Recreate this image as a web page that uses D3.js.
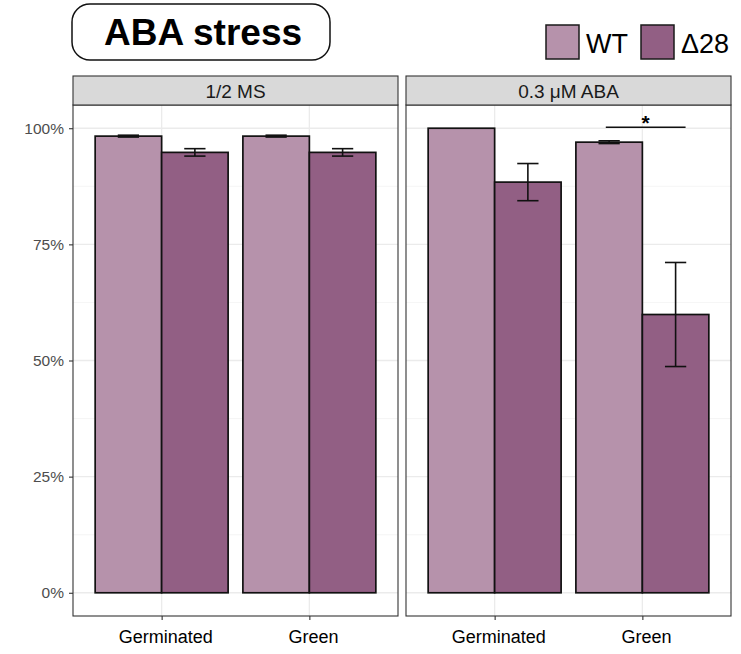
<!DOCTYPE html>
<html>
<head>
<meta charset="utf-8">
<script src="https://cdn.jsdelivr.net/npm/d3@7"></script>
<style>
  body { margin: 0; background: #fff; }
  svg { display: block; font-family: "Liberation Sans", Arial, sans-serif; }
</style>
</head>
<body>
<svg id="chart" width="741" height="654"></svg>
<script>
// Germination / greening rates under ABA stress
const panels = ["1/2 MS", "0.3 \u03bcM ABA"];
const stages = ["Germinated", "Green"];
const genotypes = ["WT", "\u039428"];
const colors = ["#b692ab", "#925f84"];

// mean and error per panel, stage, genotype
const msMean = [[0.983, 0.948], [0.983, 0.948]];
const msErr  = [[0.002, 0.008], [0.002, 0.008]];
const abaMean = [[1.000, 0.884], [0.970, 0.599]];
const abaErr  = [[0.000, 0.040], [0.003, 0.112]];
const yTicks = [0, 0.25, 0.5, 0.75, 1];
const yTickLabels = ["0%", "25%", "50%", "75%", "100%"];

const means = [msMean, abaMean];
const errs = [msErr, abaErr];

const svg = d3.select("#chart");

// layout
const panelX = [73, 406];
const panelW = 325;
const stripTop = 76, stripH = 29;
const plotTop = stripTop + stripH, plotBottom = 616;

const y = d3.scaleLinear().domain([-0.05, 1.05]).range([plotBottom, plotTop]);

panels.forEach((pname, pi) => {
  const x0 = panelX[pi];
  const g = svg.append("g");
  // stage positions: discrete axis with 0.6 expansion
  const xs = d3.scaleLinear().domain([0.4, 2.6]).range([x0, x0 + panelW]);
  const band = xs(2) - xs(1);
  const barW = band * 0.9 / 2;

  // grid
  const minor = [0.125, 0.375, 0.625, 0.875];
  g.selectAll(".minor").data(minor).join("line")
    .attr("x1", x0).attr("x2", x0 + panelW)
    .attr("y1", d => y(d)).attr("y2", d => y(d))
    .attr("stroke", "#f2f2f2").attr("stroke-width", 0.8);
  g.selectAll(".major").data(yTicks).join("line")
    .attr("x1", x0).attr("x2", x0 + panelW)
    .attr("y1", d => y(d)).attr("y2", d => y(d))
    .attr("stroke", "#ebebeb").attr("stroke-width", 1.3);
  g.selectAll(".vgrid").data(stages).join("line")
    .attr("x1", (d, i) => xs(i + 1)).attr("x2", (d, i) => xs(i + 1))
    .attr("y1", plotTop).attr("y2", plotBottom)
    .attr("stroke", "#ebebeb").attr("stroke-width", 1.3);

  // bars
  stages.forEach((st, si) => {
    genotypes.forEach((gt, gi) => {
      const v = means[pi][si][gi];
      const e = errs[pi][si][gi];
      const left = xs(si + 1) - barW + gi * barW;
      g.append("rect")
        .attr("x", left).attr("y", y(v))
        .attr("width", barW).attr("height", y(0) - y(v))
        .attr("fill", colors[gi]).attr("stroke", "#111").attr("stroke-width", 1.7);
      if (e > 0) {
        const cx = left + barW / 2;
        const hw = barW * 0.16;
        const eb = g.append("g").attr("stroke", "#111").attr("stroke-width", 1.6);
        eb.append("line").attr("x1", cx).attr("x2", cx).attr("y1", y(v + e)).attr("y2", y(v - e));
        eb.append("line").attr("x1", cx - hw).attr("x2", cx + hw).attr("y1", y(v + e)).attr("y2", y(v + e));
        eb.append("line").attr("x1", cx - hw).attr("x2", cx + hw).attr("y1", y(v - e)).attr("y2", y(v - e));
      }
    });
  });

  // significance bracket on the ABA Green pair
  if (pi === 1) {
    const sx1 = xs(2) - barW * 0.55, sx2 = xs(2) + barW * 0.65;
    g.append("line").attr("x1", sx1).attr("x2", sx2)
      .attr("y1", y(1.002)).attr("y2", y(1.002))
      .attr("stroke", "#111").attr("stroke-width", 1.6);
    g.append("text").attr("x", (sx1 + sx2) / 2).attr("y", y(1.002) + 3)
      .attr("text-anchor", "middle").attr("font-size", 21).attr("font-weight", "bold")
      .text("*");
  }

  // panel border
  g.append("rect").attr("x", x0).attr("y", plotTop).attr("width", panelW)
    .attr("height", plotBottom - plotTop).attr("fill", "none")
    .attr("stroke", "#333").attr("stroke-width", 1.1);

  // strip
  g.append("rect").attr("x", x0).attr("y", stripTop).attr("width", panelW)
    .attr("height", stripH).attr("fill", "#d9d9d9")
    .attr("stroke", "#333").attr("stroke-width", 1.1);
  g.append("text").attr("x", x0 + panelW / 2).attr("y", stripTop + stripH / 2 + 7)
    .attr("text-anchor", "middle").attr("font-size", 19).attr("fill", "#1a1a1a")
    .text(pname);

  // x axis
  const xAxis = d3.axisBottom(d3.scalePoint().domain(stages).range([xs(1), xs(2)]))
    .tickSize(4).tickPadding(10);
  const ax = g.append("g").attr("transform", `translate(0,${plotBottom})`).call(xAxis);
  ax.select(".domain").remove();
  ax.selectAll(".tick line").attr("stroke", "#333").attr("stroke-width", 1.1);
  ax.selectAll(".tick text").attr("font-size", 18).attr("fill", "#000")
    .attr("dx", "0.2em")
    .attr("font-family", "Liberation Sans, Arial, sans-serif");
});

// y axis on first panel
const yAxis = d3.axisLeft(y).tickValues(yTicks).tickFormat((d, i) => yTickLabels[i])
  .tickSize(4).tickPadding(5);
const ay = svg.append("g").attr("transform", `translate(${panelX[0]},0)`).call(yAxis);
ay.select(".domain").remove();
ay.selectAll(".tick line").attr("stroke", "#333").attr("stroke-width", 1.1);
ay.selectAll(".tick text").attr("font-size", 15.5).attr("fill", "#4d4d4d")
  .attr("font-family", "Liberation Sans, Arial, sans-serif");

// title box
svg.append("rect").attr("x", 72).attr("y", 4).attr("width", 258).attr("height", 56)
  .attr("rx", 18).attr("fill", "#fff").attr("stroke", "#111").attr("stroke-width", 1.5);
svg.append("text").attr("x", 203).attr("y", 45).attr("text-anchor", "middle")
  .attr("font-size", 37).attr("font-weight", "bold").attr("fill", "#000")
  .text("ABA stress");

// legend
const legX = [546, 641];
genotypes.forEach((gt, i) => {
  svg.append("rect").attr("x", legX[i]).attr("y", 25).attr("width", 33).attr("height", 34)
    .attr("fill", colors[i]).attr("stroke", "#1a1a1a").attr("stroke-width", 1.5);
  svg.append("text").attr("x", legX[i] + 40).attr("y", 53)
    .attr("font-size", 27).attr("fill", "#000").text(gt);
});
</script>
</body>
</html>
